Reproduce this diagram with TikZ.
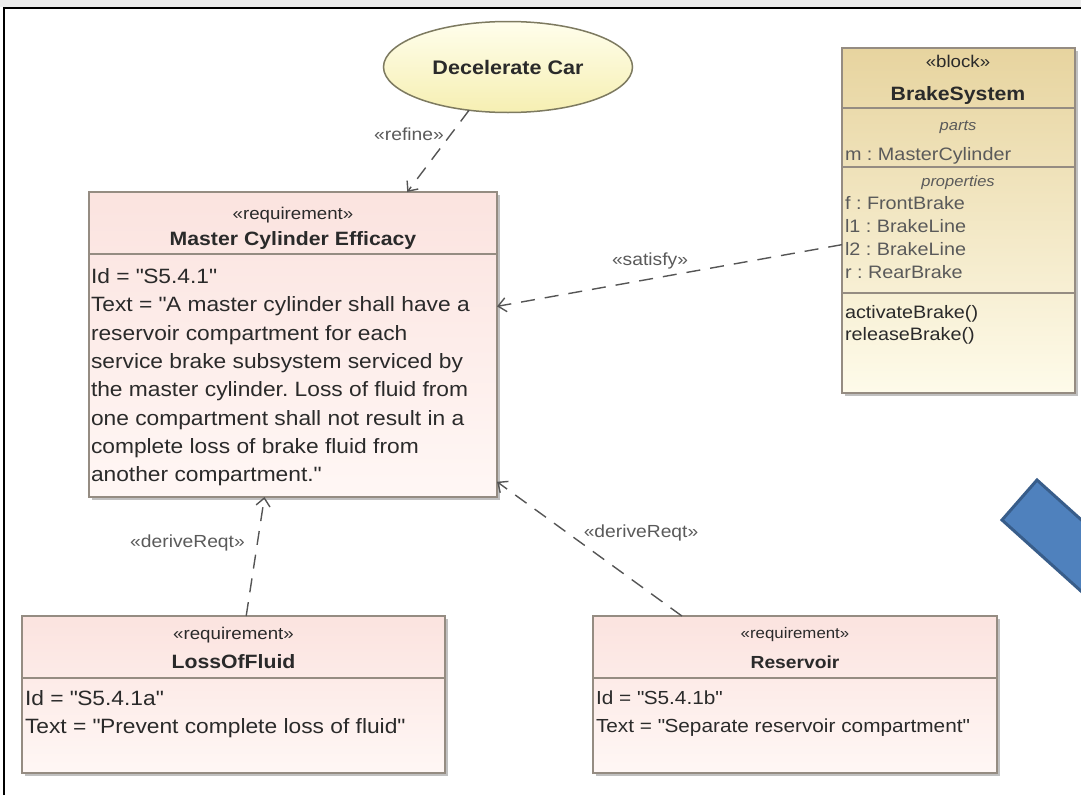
\documentclass[tikz,border=0pt]{standalone}
\usepackage{fontspec}
\setmainfont{Liberation Sans}[FakeStretch=1.1]
\usepackage{xcolor}
\usepackage{tikz}
\usetikzlibrary{arrows.meta,positioning,calc,shadows,shapes.geometric}

\newcommand{\dq}{\XeTeXglyph\XeTeXcharglyph34\relax}   % straight double quote
\frenchspacing

\definecolor{boxline}{HTML}{958C82}
\definecolor{reqtop}{HTML}{FBE3DF}
\definecolor{reqbot}{HTML}{FFF7F5}
\definecolor{blktop}{HTML}{E7D49F}
\definecolor{blkbot}{HTML}{FEFBEA}
\definecolor{uctop}{HTML}{FFFEEC}
\definecolor{ucbot}{HTML}{F6EFB2}
\definecolor{ucline}{HTML}{7D7A60}
\definecolor{depline}{HTML}{555555}
\definecolor{txtdark}{HTML}{2A2A2A}
\definecolor{txtgray}{HTML}{5A5A5A}
\definecolor{arrowfill}{HTML}{4F81BD}
\definecolor{arrowline}{HTML}{385D8A}

\begin{document}
\begin{tikzpicture}[x=1pt,y=-1pt,
  every node/.style={inner sep=0pt,outer sep=0pt,text=txtdark},
  shadowed/.style={drop shadow={shadow xshift=3pt,shadow yshift=-3pt,fill=black!45,opacity=.55}},
  reqbox/.style={shadowed,draw=boxline,line width=1.5pt,top color=reqtop,bottom color=reqbot,anchor=north west},
  blkbox/.style={shadowed,draw=boxline,line width=1.5pt,top color=blktop,bottom color=blkbot,anchor=north west},
  usecase/.style={ellipse,draw=ucline,line width=1.5pt,top color=uctop,bottom color=ucbot,
                  font=\bfseries\fontsize{19.6}{22}\selectfont},
  sepline/.style={draw=boxline,line width=1.3pt},
  stereo/.style={font=\fontsize{17}{20}\selectfont,anchor=base},
  title/.style={font=\bfseries\fontsize{19.3}{22}\selectfont,anchor=base},
  body/.style={font=\fontsize{20.7}{24}\selectfont,anchor=base west},
  item/.style={font=\fontsize{18}{21}\selectfont,anchor=base west,text=txtgray},
  group/.style={font=\itshape\fontsize{15}{18}\selectfont,anchor=base,text=txtgray},
  dep/.style={draw=depline,line width=1.4pt,dash pattern=on 14pt off 10pt,
              -{Straight Barb[length=8pt,width=14pt,line width=1.4pt]}},
  deplbl/.style={font=\fontsize{17.5}{20}\selectfont,anchor=base,text=txtgray}]

  \useasboundingbox (0,0) rectangle (1081,795);
  \fill[black!7] (0,0) rectangle (1081,7);
  \draw[line width=2pt] (4,795) -- (4,8) -- (1081,8);   % diagram frame

  % use case
  \node[usecase,minimum width=249pt,minimum height=91pt] (uc) at (508,67) {Decelerate Car};

  % main requirement
  \node[reqbox,minimum width=408pt,minimum height=305pt] (mce) at (89,192) {};
  \draw[sepline] (mce.west |- 0,254) -- (mce.east |- 0,254);
  \node[stereo] at (293,219) {«requirement»};
  \node[title]  at (293,245) {Master Cylinder Efficacy};
  \foreach \ln [count=\i from 0] in {{Id = \dq S5.4.1\dq},
      {Text = \dq A master cylinder shall have a},
      {reservoir compartment for each},
      {service brake subsystem serviced by},
      {the master cylinder. Loss of fluid from},
      {one compartment shall not result in a},
      {complete loss of brake fluid from},
      {another compartment.\dq}}
    \node[body] at (91,283.5+28.3*\i) {\ln};

  % block
  \node[blkbox,minimum width=233pt,minimum height=345pt] (bsys) at (842,48) {};
  \draw[sepline] (bsys.west |- 0,108) -- (bsys.east |- 0,108);
  \draw[sepline] (bsys.west |- 0,167) -- (bsys.east |- 0,167);
  \draw[sepline] (bsys.west |- 0,293) -- (bsys.east |- 0,293);
  \node[stereo] at (958,67) {«block»};
  \node[title]  at (958,100) {BrakeSystem};
  \node[group]  at (958,130) {parts};
  \node[item]   at (845,160) {m : MasterCylinder};
  \node[group]  at (958,186) {properties};
  \node[item]   at (845,209.5) {f : FrontBrake};
  \node[item]   at (845,232.5) {l1 : BrakeLine};
  \node[item]   at (845,255.5) {l2 : BrakeLine};
  \node[item]   at (845,278.5) {r : RearBrake};
  \node[item,text=txtdark] at (845,318) {activateBrake()};
  \node[item,text=txtdark] at (845,340) {releaseBrake()};

  % derived requirements
  \node[reqbox,minimum width=423pt,minimum height=157pt] (lof) at (22,616) {};
  \draw[sepline] (lof.west |- 0,678) -- (lof.east |- 0,678);
  \node[stereo] at (233.5,639) {«requirement»};
  \node[title]  at (233.5,668) {LossOfFluid};
  \node[body]   at (25,705) {Id = \dq S5.4.1a\dq};
  \node[body]   at (25,733.5) {Text = \dq Prevent complete loss of fluid\dq};

  \node[reqbox,minimum width=404pt,minimum height=157pt] (res) at (593,616) {};
  \draw[sepline] (res.west |- 0,678) -- (res.east |- 0,678);
  \node[stereo,font=\fontsize{15.3}{18}\selectfont] at (795,638) {«requirement»};
  \node[title,font=\bfseries\fontsize{17.5}{20}\selectfont] at (795,668) {Reservoir};
  \node[body,font=\fontsize{18.9}{22}\selectfont] at (596,704) {Id = \dq S5.4.1b\dq};
  \node[body,font=\fontsize{18.9}{22}\selectfont] at (596,732.5) {Text = \dq Separate reservoir compartment\dq};

  % dependencies
  \draw[dep] (uc.228) -- ($(mce.north west)!0.78!(mce.north east)$);
  \node[deplbl] (lblref) at (409,140) {«refine»};
  \draw[dep] ($(bsys.north west)!0.57!(bsys.south west)$) -- ($(mce.north east)!0.375!(mce.south east)$);
  \node[deplbl] (lblsat) at (650,265) {«satisfy»};
  \draw[dep] ($(lof.north west)!0.53!(lof.north east)$) -- ($(mce.south west)!0.43!(mce.south east)$);
  \node[deplbl] (lbldl) at (187.5,547) {«deriveReqt»};
  \draw[dep] ($(res.north west)!0.22!(res.north east)$) -- ($(mce.north east)!0.95!(mce.south east)$);
  \node[deplbl] (lbldr) at (641,537) {«deriveReqt»};

  % blue arrow shape, cut by the right edge
  \begin{scope}
    \clip (0,0) rectangle (1081,795);
    \draw[fill=arrowfill,draw=arrowline,line width=3pt,line join=miter]
      (1037,480) -- (1002,520) -- (1202,700) -- (1237,660) -- cycle;
  \end{scope}
\end{tikzpicture}
\end{document}
